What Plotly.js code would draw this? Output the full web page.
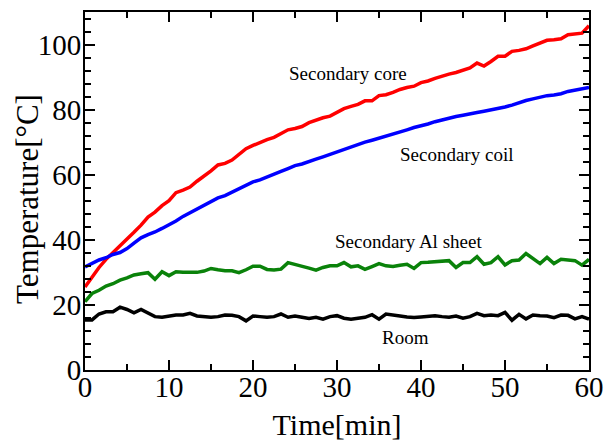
<!DOCTYPE html>
<html>
<head>
<meta charset="utf-8">
<script src="https://cdn.plot.ly/plotly-3.0.1.min.js"></script>
<style>html,body{margin:0;padding:0;background:#fff}#chart{width:606px;height:441px}</style>
</head>
<body>
<div id="chart"></div>
<script>
const timeMin = [0,0.83,1.67,2.5,3.33,4.17,5,5.83,6.67,7.5,8.33,9.17,10,10.83,11.67,12.5,13.33,14.17,15,15.83,16.67,17.5,18.33,19.17,20,20.83,21.67,22.5,23.33,24.17,25,25.83,26.67,27.5,28.33,29.17,30,30.83,31.67,32.5,33.33,34.17,35,35.83,36.67,37.5,38.33,39.17,40,40.83,41.67,42.5,43.33,44.17,45,45.83,46.67,47.5,48.33,49.17,50,50.83,51.67,52.5,53.33,54.17,55,55.83,56.67,57.5,58.33,59.17,60];

const secondaryCore = [25.5,28.5,31.5,34,36,38,40,42.3,44.5,47,48.5,50.5,52,54.5,55.3,56.2,58,59.5,61.2,63,63.5,64.5,66.2,68,69,70,70.8,71.5,72.5,73.8,74.2,74.8,76,76.8,77.5,78,79.3,80.3,81,81.6,82.7,82.7,84.3,84.6,85.3,86.2,86.8,87.2,88.3,88.8,89.6,90.3,90.9,91.4,92.1,92.8,94.3,93.4,94.8,96.4,96.4,97.9,98.2,98.7,99.6,100.4,101.3,101.5,101.8,103,103.2,103.5,105.8];

const secondaryCoil = [31.7,32.7,33.8,34.5,35.5,36.1,37.3,39,40.6,41.6,42.4,43.5,44.6,45.8,47.2,48.3,49.5,50.6,51.7,52.9,53.6,54.6,55.7,56.6,57.8,58.4,59.2,60,61,61.9,62.8,63.3,64.2,64.8,65.5,66.3,67,67.7,68.5,69.2,70,70.6,71.2,71.9,72.5,73.1,73.8,74.5,75,75.6,76.3,76.9,77.4,77.9,78.3,78.6,79.1,79.5,79.9,80.3,80.8,81.4,82.2,82.8,83.3,83.9,84.3,84.5,84.9,85.6,86,86.4,86.8];

const secondaryAlSheet = [21,23.5,24.5,25.8,26.5,27.6,28.3,29.2,29.6,29.9,27.9,30.2,29,30.2,30,30,30,30.4,31.2,30.8,30.5,30.5,29.9,30.8,31.9,31.9,30.9,30.7,31,33,32.5,32,31.3,30.7,31.5,32,32,33,31.7,32,30.9,31.8,32.7,32,31.8,32.2,32.5,31.2,33,33.1,33.2,33.3,33.6,31.5,33,33,34.8,32.5,33,34.8,32.3,33.6,33.8,35.8,34.2,32.7,34.6,32.7,34,33.9,33.6,32.2,34];

const room = [15.4,15.4,17.2,17.9,17.9,19.3,18.6,17.6,18.6,17.4,16.4,16.2,16.5,16.9,16.9,17.4,16.6,16.3,16.2,16.4,16.9,16.8,16.4,15.1,16.6,16.4,16.2,16.4,17.2,16.2,16.6,16.2,15.8,16.2,15.6,16.4,16.7,15.9,15.6,15.9,16.2,17,15.6,17.2,17,16.6,16.3,16.1,16.3,16.6,16.7,16.4,16.2,16.6,15.9,16.4,17.4,16.7,16.9,16.7,17.7,15.3,17.1,15.7,16.9,16.7,16.6,16.1,16.9,16.8,15.7,16.4,15.6];

const seriesNames = ["Secondary core","Secondary coil","Secondary Al sheet","Room"];
const seriesColors = ["#ff0000","#0000ff","#0a820a","#000000"];
const seriesData = [secondaryCore, secondaryCoil, secondaryAlSheet, room];

const labelX = [31.3, 44.2, 38.5, 38.1];
const labelY = [91.2, 66.3, 39.6, 10.1];

const font = "Liberation Serif";

const traces = seriesData.map((ys, i) => ({
  x: timeMin, y: ys, type: "scatter", mode: "lines", name: seriesNames[i],
  line: {color: seriesColors[i], width: 3.5}, showlegend: false, hoverinfo: "skip"
}));

const annotations = seriesNames.map((n, i) => ({
  x: labelX[i], y: labelY[i], xref: "x", yref: "y", text: n, showarrow: false,
  font: {family: font, size: 19, color: "#000"}
}));
annotations.push({
  x: 0, y: 0.5, xref: "paper", yref: "paper", xanchor: "center", yanchor: "middle",
  xshift: -58, yshift: -8, textangle: -90, showarrow: false,
  text: "Temperature[°C]", font: {family: font, size: 31, color: "#000"}
});

const axisCommon = {
  showgrid: false, zeroline: false, showline: true, linecolor: "#000", linewidth: 2,
  mirror: "ticks", ticks: "inside", ticklen: 10, tickwidth: 2, tickcolor: "#000",
  tickfont: {family: font, size: 29, color: "#000"}
};

const layout = {
  width: 606, height: 441,
  margin: {l: 85, r: 17, t: 12, b: 71},
  paper_bgcolor: "#fff", plot_bgcolor: "#fff",
  font: {family: font, color: "#000"},
  xaxis: Object.assign({}, axisCommon, {
    range: [0, 60], dtick: 10, tick0: 0, ticklabelstandoff: -10,
    minor: {dtick: 5, ticks: "inside", ticklen: 6, tickwidth: 2, tickcolor: "#000"},
    title: {text: "Time[min]", font: {family: font, size: 30, color: "#000"}, standoff: 16}
  }),
  yaxis: Object.assign({}, axisCommon, {
    range: [0, 110], dtick: 20, tick0: 0, ticklabelstandoff: -4,
    minor: {dtick: 4, ticks: "inside", ticklen: 6, tickwidth: 2, tickcolor: "#000"}
  }),
  annotations: annotations
};

Plotly.newPlot("chart", traces, layout, {staticPlot: true, displayModeBar: false});
</script>
</body>
</html>
